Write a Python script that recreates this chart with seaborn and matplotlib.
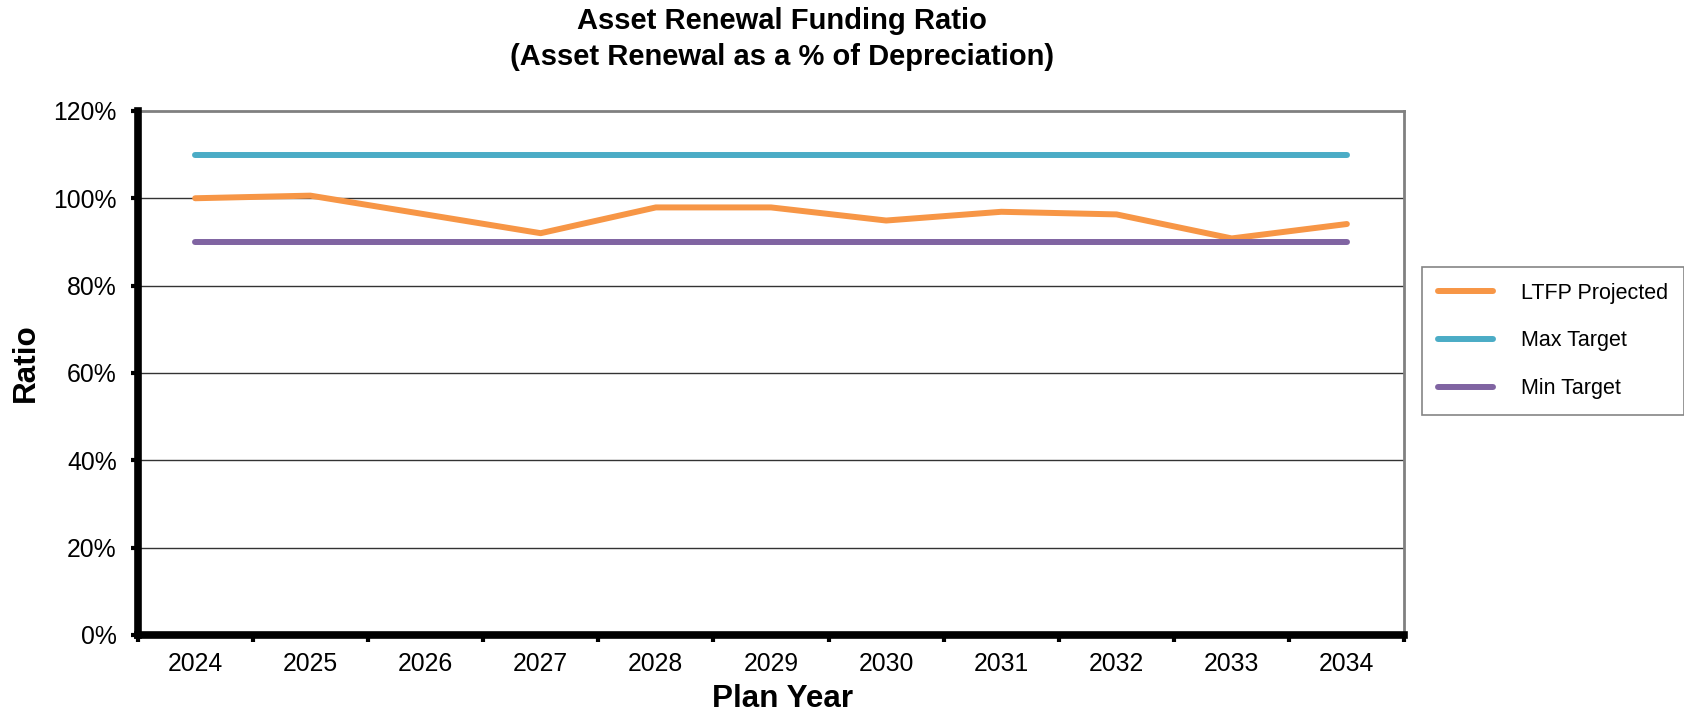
import numpy as np
import pandas as pd
import matplotlib
matplotlib.use("Agg")
import matplotlib.pyplot as plt
import seaborn as sns
from matplotlib.lines import Line2D

years = ["2024", "2025", "2026", "2027", "2028", "2029", "2030", "2031", "2032", "2033", "2034"]
ltfp_projected = [100.0, 100.6, 96.3, 92.0, 97.9, 97.9, 94.9, 96.9, 96.3, 90.8, 94.1]
max_target = [110] * 11
min_target = [90] * 11
series_names = ["LTFP Projected", "Max Target", "Min Target"]
colors = ["#F79646", "#4BACC6", "#8064A2"]
y_ticks = [0, 20, 40, 60, 80, 100, 120]

sns.set_theme(style="white")
plt.rcParams["font.family"] = ["Liberation Sans", "DejaVu Sans"]
plt.rcParams["text.color"] = "black"
plt.rcParams["axes.labelcolor"] = "black"
plt.rcParams["xtick.color"] = "black"
plt.rcParams["ytick.color"] = "black"
plt.rcParams["xtick.labelcolor"] = "black"
plt.rcParams["ytick.labelcolor"] = "black"

rows = []
for name, vals in zip(series_names, [ltfp_projected, max_target, min_target]):
    for i, (yr, v) in enumerate(zip(years, vals)):
        rows.append({"idx": i, "Year": yr, "Series": name, "Value": v})
df = pd.DataFrame(rows)

fig = plt.figure(figsize=(16.84, 7.11), dpi=100)
ax = fig.add_axes([0.0817, 0.107, 0.834 - 0.0817, 0.844 - 0.107])

# gridlines
for yv in y_ticks[1:-1]:
    ax.axhline(yv, color="#333333", lw=1.0, zorder=1)

sns.lineplot(data=df, x="idx", y="Value", hue="Series", hue_order=series_names,
             palette=colors, linewidth=4.3, ax=ax, legend=False, zorder=3)
for ln in ax.get_lines():
    ln.set_solid_capstyle("round")

ax.set_xlim(-0.5, len(years) - 0.5)
ax.set_ylim(0, 120)

ax.set_yticks(y_ticks)
ax.set_yticklabels([f"{v}%" for v in y_ticks], fontsize=17.8, color="black")
ax.tick_params(axis="y", which="major", direction="out", length=5, width=3,
               color="black", left=True, pad=10)

ax.set_xticks(np.arange(-0.5, len(years), 1.0))
ax.set_xticklabels([])
ax.set_xticks(np.arange(len(years)), minor=True)
ax.set_xticklabels(years, minor=True, fontsize=17.8, color="black")
ax.tick_params(axis="x", which="major", direction="out", length=5, width=3,
               color="black", bottom=True)
ax.tick_params(axis="x", which="minor", length=0, pad=12)

for side in ["left", "bottom"]:
    ax.spines[side].set_color("black")
    ax.spines[side].set_linewidth(5.5)
    ax.spines[side].set_zorder(5)
for side in ["top", "right"]:
    ax.spines[side].set_color("#808080")
    ax.spines[side].set_linewidth(2)

ax.set_xlabel("")
ax.set_ylabel("")

fig.text(0.4645, 0.970, "Asset Renewal Funding Ratio", ha="center", va="center",
         fontsize=21, fontweight="bold", color="black")
fig.text(0.4645, 0.920, "(Asset Renewal as a % of Depreciation)", ha="center", va="center",
         fontsize=21, fontweight="bold", color="black")
fig.text(0.4645, 0.017, "Plan Year", ha="center", va="center", fontsize=22.6,
         fontweight="bold", color="black")
fig.text(0.0155, 0.49, "Ratio", ha="center", va="center", rotation=90, fontsize=22.6,
         fontweight="bold", color="black")

handles = [Line2D([0], [0], color=c, lw=4.3, solid_capstyle="round") for c in colors]
leg = fig.legend(handles, series_names, loc="upper left",
                 bbox_to_anchor=(1422 / 1684, 1 - 267 / 711), fontsize=15.5,
                 frameon=True, fancybox=False, edgecolor="#666666",
                 handlelength=2.6, handletextpad=1.3, labelspacing=1.25,
                 borderpad=0.72, borderaxespad=0)
leg.get_frame().set_linewidth(1.2)
for t in leg.get_texts():
    t.set_color("black")

fig.savefig("out.png", dpi=100)
